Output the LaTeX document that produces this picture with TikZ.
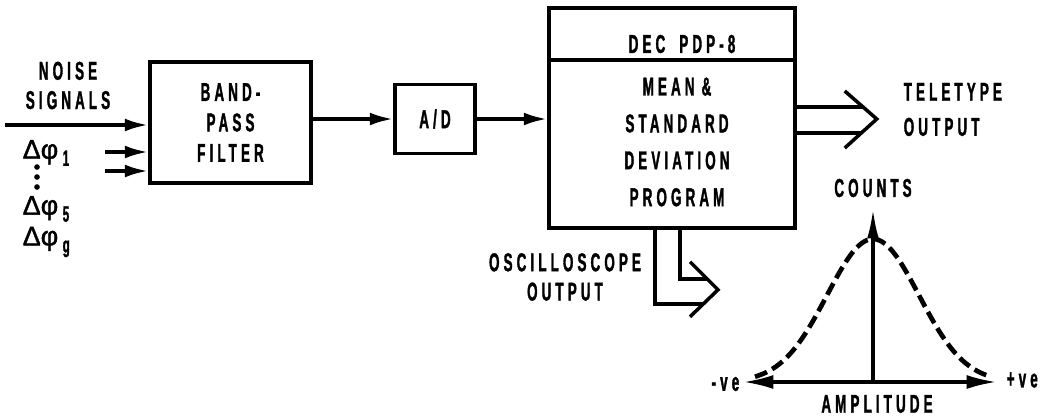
\documentclass[tikz,border=0pt]{standalone}
\usepackage{fontspec}
\newfontfamily\lettering{Liberation Sans}[FakeStretch=0.52,LetterSpace=16,FakeBold=1.3]
\newfontfamily\greekfont{Liberation Sans}[FakeBold=1.5]
\usetikzlibrary{arrows.meta,calc}
\newcommand\dphi[1]{{\greekfont\fontsize{23}{23}\selectfont Δφ\,\raisebox{-0.5ex}{\lettering\bfseries\fontsize{19}{19}\selectfont #1}}}

\begin{document}
\begin{tikzpicture}[x=0.03cm,y=-0.03cm,line width=3pt,
  lbl/.style={font=\lettering\bfseries\fontsize{22}{23}\selectfont, align=center, inner sep=0pt},
  blk/.style={draw, inner sep=0pt},
  arr/.style={-{Latex[length=20pt,width=11pt]}},
  axis/.style={-{Latex[length=26pt,width=10pt]}},
  curve/.style={line width=4pt, dash pattern=on 11pt off 5pt}]
\useasboundingbox (0,0) rectangle (1056,418);

% input side
\node[lbl] (noise) at (68,85.5) {NOISE\\[2pt]SIGNALS};
\node[anchor=west, inner sep=0pt] (d1) at (21,153) {\dphi{1}};
\node[anchor=west, inner sep=0pt] (d5) at (21,209) {\dphi{5}};
\node[anchor=west, inner sep=0pt] (dg) at (21,242) {\dphi{g}};
\foreach \k in {167,177,187} \fill (37,\k) circle (2.4pt);

% blocks
\node[blk, lbl, minimum width=4.83cm, minimum height=3.63cm] (filter) at (230.5,122.5) {BAND-\\[3pt]PASS\\[3pt]FILTER};
\node[blk, lbl, minimum width=2.4cm, minimum height=2.07cm] (ad) at (435,119) {A/D};
\node[blk, minimum width=7.38cm, minimum height=6.6cm] (pdp) at (672,118) {};
\draw ($(pdp.north west)+(0,54)$) -- ($(pdp.north east)+(0,54)$);
\node[lbl] (dec) at (682,44) {DEC\hspace{12pt}PDP-8};
\node[lbl] (prog) at (677,142) {MEAN\hspace{6pt}\&\\[8.5pt]STANDARD\\[8.5pt]DEVIATION\\[8.5pt]PROGRAM};

% connectors
\coordinate (in) at (5,125);
\coordinate (p1) at (105,152);
\coordinate (p2) at (105,171);
\draw[arr] (in) -- (in -| filter.west);
\draw[arr] (p1) -- (p1 -| filter.west);
\draw[arr] (p2) -- (p2 -| filter.west);
\draw[arr] (filter.east |- ad.west) -- (ad.west);
\draw[arr] (ad.east) -- (ad.east -| pdp.west);

% teletype output
\draw ($(pdp.east)+(0,-11)$) -- ++(66,0);
\draw ($(pdp.east)+(0,15)$) -- ++(65,0);
\draw ($(pdp.east)+(48,-27)$) -- ($(pdp.east)+(80,1)$) -- ($(pdp.east)+(48,30)$);
\node[lbl, anchor=west, align=left] (tele) at (902,109.5) {TELETYPE\\[7pt]OUTPUT};

% oscilloscope output
\draw ($(pdp.south)+(-17,0)$) -- ++(0,74) -- ++(48,0);
\draw ($(pdp.south)+(8,0)$) -- ++(0,49) -- ++(27,0);
\draw ($(pdp.south)+(18,32)$) -- ($(pdp.south)+(46,60)$) -- ($(pdp.south)+(18,87)$);
\node[lbl] (osc) at (565,277) {OSCILLOSCOPE\\[2pt]OUTPUT};

% distribution
\coordinate (o) at (873,382);
\coordinate (ytop) at (873,208);
\coordinate (xl) at (743,382);
\coordinate (xr) at (997,382);
\draw[axis] (o) -- (ytop);
\draw[{Latex[length=26pt,width=12pt]}-{Latex[length=26pt,width=12pt]}] (xl) -- (xr);
\draw[curve, shift={(873,382)}] plot[domain=-118:116, samples=80, smooth] (\x,{-143*exp(-0.5*(\x/46)^2)});
\node[lbl] (counts) at (873,188) {COUNTS};
\node[lbl] (ampl) at (877,404) {AMPLITUDE};
\node[lbl, anchor=west] (pos) at (1005,380) {+ve};
\node[lbl, anchor=east] (neg) at (741,384) {-ve};
\end{tikzpicture}
\end{document}
